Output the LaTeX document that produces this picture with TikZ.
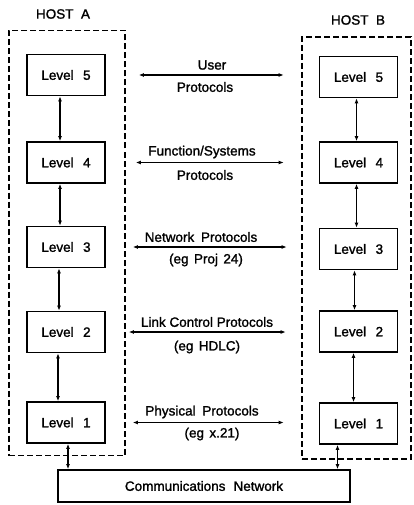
\documentclass[tikz,border=0pt]{standalone}
\usepackage{fontspec}
\setmainfont{Liberation Sans}
\newfontfamily\plotfont{Liberation Sans}[FakeBold=1.4]
\usetikzlibrary{arrows.meta}
\begin{document}
\begin{tikzpicture}[x=1pt,y=-1pt,
  level/.style={draw,line width=1.7pt,minimum width=78pt,minimum height=41pt,inner sep=0pt,font=\plotfont\fontsize{13.5}{16}\selectfont},
  host/.style={draw,line width=1.6pt,dash pattern=on 6pt off 3pt,inner sep=0pt},
  lbl/.style={font=\plotfont\fontsize{13.5}{16}\selectfont,inner sep=1pt},
  dbl/.style={line width=1.4pt,{Latex[length=5pt,width=4pt]}-{Latex[length=5pt,width=4pt]}},
]
\useasboundingbox (0,0) rectangle (413,505);
% hosts
\node[host,minimum width=116pt,minimum height=425pt] (HA) at (67,243) {};
\node[host,minimum width=109pt,minimum height=422pt] (HB) at (356.5,248) {};
\node[lbl] (hostA) at (63,14) {HOST\ \ A};
\node[lbl] (hostB) at (358,20) {HOST\ \ B};
% host A levels
\node[level] (A5) at (66,75) {Level\hspace{0.7em}5};
\node[level] (A4) at (66,162.5) {Level\hspace{0.7em}4};
\node[level] (A3) at (66,247) {Level\hspace{0.7em}3};
\node[level] (A2) at (66,332) {Level\hspace{0.7em}2};
\node[level] (A1) at (66,422.5) {Level\hspace{0.7em}1};
% host B levels
\node[level] (B5) at (358.5,77) {Level\hspace{0.7em}5};
\node[level] (B4) at (358.5,162.5) {Level\hspace{0.7em}4};
\node[level] (B3) at (358.5,249) {Level\hspace{0.7em}3};
\node[level] (B2) at (358.5,331.5) {Level\hspace{0.7em}2};
\node[level] (B1) at (358.5,423.5) {Level\hspace{0.7em}1};
% network
\node[level,minimum width=292pt,minimum height=32pt] (NET) at (204,486) {Communications\hspace{0.6em}Network};
% vertical arrows A
\draw[dbl] ([xshift=-6pt]A5.south) -- ([xshift=-6pt]A4.north);
\draw[dbl] ([xshift=-6pt]A4.south) -- ([xshift=-6pt]A3.north);
\draw[dbl] ([xshift=-7pt]A3.south) -- ([xshift=-7pt]A2.north);
\draw[dbl] ([xshift=-8pt]A2.south) -- ([xshift=-8pt]A1.north);
\draw[dbl] ([xshift=2pt]A1.south) -- ([xshift=2pt]A1.south |- NET.north);
% vertical arrows B
\draw[dbl] ([xshift=-2pt]B5.south) -- ([xshift=-2pt]B4.north);
\draw[dbl] ([xshift=-2pt]B4.south) -- ([xshift=-2pt]B3.north);
\draw[dbl] ([xshift=-4pt]B3.south) -- ([xshift=-4pt]B2.north);
\draw[dbl] ([xshift=-5pt]B2.south) -- ([xshift=-5pt]B1.north);
\draw[dbl] ([xshift=-21pt]B1.south) -- ([xshift=-21pt]B1.south |- NET.north);
% protocol arrows
\draw[dbl,shorten <=33pt,shorten >=35pt] (A5.east) -- (A5.east -| B5.west);
\draw[dbl,shorten <=30pt,shorten >=35pt] (A4.east) -- (A4.east -| B4.west);
\draw[dbl,shorten <=27pt,shorten >=32pt] (A3.east) -- (A3.east -| B3.west);
\draw[dbl,shorten <=23pt,shorten >=33pt] (A2.east) -- (A2.east -| B2.west);
\draw[dbl,shorten <=27pt,shorten >=35pt] (A1.east) -- (A1.east -| B1.west);
% protocol labels
\node[lbl] (p5a) at (212,65) {User};
\node[lbl] (p5b) at (205,87) {Protocols};
\node[lbl] (p4a) at (202,152) {Function/Systems};
\node[lbl] (p4b) at (205,175) {Protocols};
\node[lbl] (p3a) at (201,237) {Network\hspace{0.5em}Protocols};
\node[lbl] (p3b) at (206,260) {(eg\hspace{0.4em}Proj\hspace{0.4em}24)};
\node[lbl] (p2a) at (207,322) {Link Control Protocols};
\node[lbl] (p2b) at (207,347) {(eg\hspace{0.4em}HDLC)};
\node[lbl] (p1a) at (202,412) {Physical\hspace{0.5em}Protocols};
\node[lbl] (p1b) at (212,434) {(eg\hspace{0.4em}x.21)};
\end{tikzpicture}
\end{document}
